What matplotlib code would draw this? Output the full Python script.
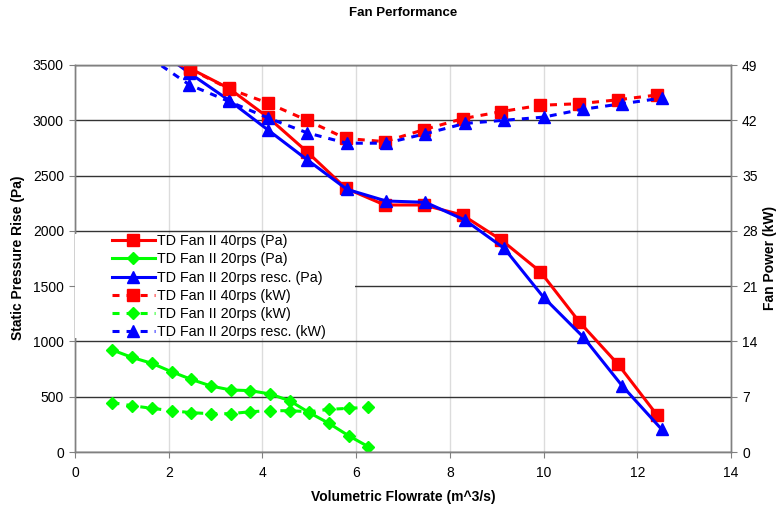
import matplotlib
matplotlib.use('Agg')
import matplotlib.pyplot as plt
from matplotlib.patches import Rectangle

# volumetric flowrate (m^3/s)
flow_40 = [1.62, 2.45, 3.28, 4.11, 4.95, 5.78, 6.61, 7.44, 8.27, 9.10, 9.93, 10.76, 11.59, 12.42]
flow_20 = [0.80, 1.22, 1.64, 2.06, 2.48, 2.90, 3.32, 3.74, 4.16, 4.58, 5.00, 5.42, 5.84, 6.26]
flow_20r = [1.60, 2.44, 3.28, 4.12, 4.96, 5.80, 6.64, 7.48, 8.32, 9.16, 10.00, 10.84, 11.68, 12.52]

# static pressure rise (Pa)
pa_40 = [3720, 3470, 3290, 3030, 2716, 2385, 2234, 2234, 2143, 1917, 1631, 1178, 793, 335]
pa_20 = [922, 855, 802, 726, 657, 597, 561, 555, 525, 464, 356, 259, 147, 48]
pa_20r = [3690, 3428, 3183, 2912, 2641, 2376, 2270, 2258, 2098, 1842, 1399, 1043, 597, 205]

# fan power (kW)
kw_40 = [50.5, 48.5, 46.0, 44.2, 42.0, 39.7, 39.3, 40.8, 42.2, 43.1, 43.9, 44.1, 44.6, 45.2]
kw_20 = [6.24, 5.86, 5.53, 5.23, 4.98, 4.85, 4.85, 5.10, 5.23, 5.23, 5.10, 5.40, 5.53, 5.66]
kw_20r = [49.9, 46.5, 44.4, 42.3, 40.4, 39.1, 39.1, 40.3, 41.6, 42.0, 42.4, 43.4, 44.1, 44.8]

labels = ['TD Fan II 40rps (Pa)', 'TD Fan II 20rps (Pa)', 'TD Fan II 20rps resc. (Pa)',
          'TD Fan II 40rps (kW)', 'TD Fan II 20rps (kW)', 'TD Fan II 20rps resc. (kW)']

plt.rcParams['font.family'] = ['Liberation Sans', 'DejaVu Sans']

RED, GREEN, BLUE = '#ff0000', '#00ff00', '#0000ff'
FRAME = '#808080'
dash = (0, (2.3, 2.3))

W, H = 778, 512
fig = plt.figure(figsize=(W / 100, H / 100), dpi=100)
ax = fig.add_axes([75 / W, 1 - 452 / H, (731 - 75) / W, (452 - 65) / H])
ax2 = ax.twinx()

lw = 2.2
h1, = ax.plot(flow_40, pa_40, color=RED, lw=lw, marker='s', ms=8, label=labels[0])
h2, = ax.plot(flow_20, pa_20, color=GREEN, lw=lw, marker='D', ms=6.5, label=labels[1])
h3, = ax.plot(flow_20r, pa_20r, color=BLUE, lw=lw, marker='^', ms=9, label=labels[2])
h4, = ax2.plot(flow_40, kw_40, color=RED, lw=lw, ls=dash, marker='s', ms=8, label=labels[3])
h5, = ax2.plot(flow_20, kw_20, color=GREEN, lw=lw, ls=dash, marker='D', ms=6.5, label=labels[4])
h6, = ax2.plot(flow_20r, kw_20r, color=BLUE, lw=lw, ls=dash, marker='^', ms=9, label=labels[5])

ax.set_xlim(0, 14)
ax.set_ylim(0, 3500)
ax2.set_ylim(0, 49)
ax.set_xticks(range(0, 15, 2))
ax.set_yticks(range(0, 3501, 500))
ax2.set_yticks(range(0, 50, 7))

ax.grid(axis='y', color='#333333', lw=1.0)
ax.grid(axis='x', color='#dcdcdc', lw=1.0)
ax.set_axisbelow(True)

for a in (ax, ax2):
    for s in a.spines.values():
        s.set_color(FRAME)
        s.set_linewidth(1.0)
    a.tick_params(direction='out', length=4, color=FRAME, labelsize=10, pad=4)
ax.tick_params(axis='x', pad=6)

ax.set_xlabel('Volumetric Flowrate (m^3/s)', fontsize=10, fontweight='bold', labelpad=7)
fig.text(18 / W, 1 - 258 / H, 'Static Pressure Rise (Pa)', rotation=90,
         ha='center', va='center', fontsize=10, fontweight='bold')
fig.text(770 / W, 1 - 258 / H, 'Fan Power (kW)', rotation=90,
         ha='center', va='center', fontsize=10, fontweight='bold')
fig.text(403 / W, 1 - 13 / H, 'Fan Performance', ha='center', va='center',
         fontsize=9.5, fontweight='bold')

# white legend area (hides the gridlines behind the legend)
ax2.add_patch(Rectangle((0, (452 - 338) / 387), (355 - 75) / 656, 104 / 387,
                        transform=ax2.transAxes, facecolor='white',
                        edgecolor='none', zorder=9))

leg = ax2.legend(handles=[h1, h2, h3, h4, h5, h6], loc='upper left',
                 bbox_to_anchor=((112 - 75) / 656, (452 - 234) / 387),
                 fontsize=10.3, frameon=False,
                 handlelength=3.0, handletextpad=0.15, labelspacing=0.3,
                 borderpad=0.0, borderaxespad=0.0)
leg.set_zorder(10)

fig.savefig('out.png', dpi=100)
